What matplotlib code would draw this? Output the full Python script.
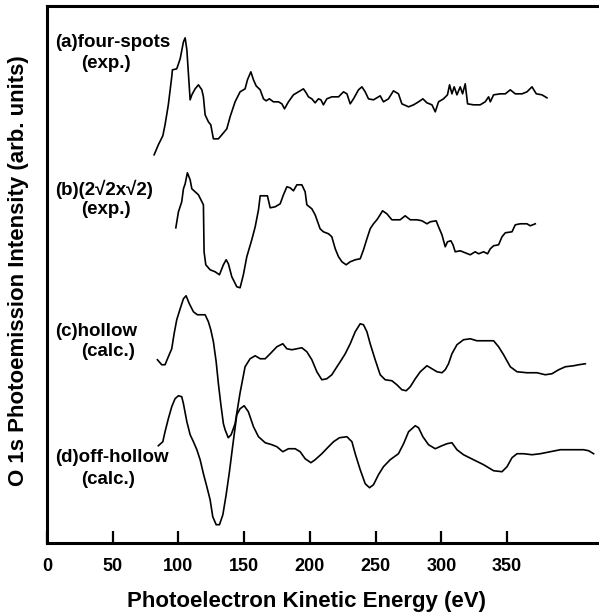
import numpy as np
import matplotlib
matplotlib.use("Agg")
from matplotlib import pyplot as plt

plt.rcParams['font.family'] = ['Liberation Sans', 'DejaVu Sans']
plt.rcParams['font.weight'] = 'bold'

# photoelectron kinetic energy (eV) and stacked intensity (arb. units)
E_a = [81.5, 84.7, 88.1, 89.8, 92.3, 94.9, 95.4, 98.7, 101.3, 103.8, 105.1, 106.4, 107.6,
       108.9, 110.2, 112.7, 115.2, 117.8, 119.0, 120.3, 122.8, 124.6, 126.6, 130.4, 133.0,
       136.8, 139.3, 143.1, 146.9, 150.7, 152.5, 155.1, 157.1, 159.1, 162.2, 164.7, 166.7,
       169.2, 172.3, 176.1, 178.7, 180.7, 183.7, 187.5, 191.3, 195.1, 197.2, 198.9, 201.5,
       204.0, 206.5, 208.4, 210.3, 212.9, 216.7, 221.8, 225.6, 228.2, 230.7, 233.2, 237.0,
       239.6, 242.1, 244.6, 248.4, 253.5, 256.0, 259.8, 263.6, 267.4, 270.0, 275.1, 278.9,
       282.7, 286.0, 289.1, 292.9, 295.4, 297.9, 301.7, 304.7, 306.3, 308.1, 309.8, 311.9,
       314.4, 316.2, 318.2, 320.0, 324.5, 329.6, 333.4, 336.0, 337.3, 339.8, 344.9, 348.7,
       352.5, 356.3, 361.4, 365.2, 369.0, 372.3, 376.6, 380.4]
I_a = [388, 398, 407, 418, 438, 466, 473, 474, 484, 501, 505, 493, 469,
       443, 448, 454, 458, 453, 446, 428, 421, 418, 404, 404, 408,
       414, 426, 441, 451, 454, 463, 471, 463, 457, 453, 444, 442,
       444, 441, 441, 439, 434, 441, 448, 451, 454, 450, 446, 444,
       440, 444, 443, 438, 444, 446, 446, 451, 449, 439, 444, 453,
       456, 451, 444, 443, 447, 441, 444, 452, 449, 439, 436, 438,
       441, 444, 440, 438, 431, 441, 444, 448, 458, 449, 456, 448,
       456, 449, 459, 439, 438, 438, 441, 446, 441, 448, 449, 449,
       453, 449, 449, 451, 456, 449, 448, 445]

E_b = [98.0, 100.0, 102.5, 103.8, 105.1, 106.8, 108.9, 110.2, 112.7, 115.2, 119.0, 119.5,
       120.8, 124.1, 127.9, 131.2, 134.2, 136.3, 138.0, 140.6, 144.4, 146.9, 149.4, 152.0,
       155.8, 158.4, 160.9, 162.2, 167.7, 169.8, 173.6, 177.4, 179.9, 182.5, 185.0, 187.5,
       190.1, 193.9, 196.4, 197.7, 201.5, 204.0, 207.8, 210.3, 214.2, 216.7, 219.3, 221.8,
       224.4, 227.6, 230.7, 234.5, 238.3, 240.8, 243.4, 245.9, 248.4, 251.0, 253.0, 255.3,
       258.6, 262.4, 268.7, 272.5, 276.4, 281.5, 285.3, 289.1, 291.6, 296.1, 297.9, 300.5,
       303.0, 304.7, 307.3, 308.9, 310.6, 314.4, 318.2, 322.0, 325.8, 328.4, 332.2, 335.2,
       337.3, 339.8, 343.6, 346.2, 348.7, 353.8, 356.3, 360.1, 365.2, 367.7, 371.5]
I_b = [315, 331, 341, 354, 359, 370, 363, 354, 351, 348, 338, 291,
       278, 273, 271, 268, 278, 283, 279, 266, 256, 255, 268, 286,
       303, 316, 333, 347, 347, 335, 336, 339, 348, 356, 355, 352,
       358, 358, 351, 338, 334, 328, 314, 311, 309, 306, 294, 286,
       281, 278, 281, 283, 284, 293, 304, 314, 319, 323, 327, 332,
       329, 323, 323, 327, 323, 323, 322, 319, 321, 322, 316, 308,
       296, 301, 302, 298, 291, 292, 290, 288, 291, 289, 291, 289,
       294, 297, 298, 306, 310, 311, 318, 319, 319, 317, 319]

E_c = [84.0, 87.3, 89.8, 92.3, 94.9, 96.7, 98.7, 101.3, 103.8, 105.8, 108.3, 111.4,
       114.4, 120.3, 122.8, 124.6, 126.6, 128.7, 130.4, 132.2, 134.2, 135.5, 137.9, 140.1,
       143.1, 146.9, 150.7, 154.5, 158.4, 162.2, 166.0, 169.8, 174.9, 179.4, 182.5, 186.3,
       190.1, 193.9, 197.7, 201.5, 205.3, 209.1, 212.9, 216.7, 220.6, 223.1, 226.9, 230.7,
       234.5, 238.3, 240.8, 243.4, 245.9, 249.7, 253.5, 257.3, 262.4, 266.2, 270.0, 273.3,
       276.4, 280.2, 284.0, 289.1, 292.9, 296.7, 300.5, 303.0, 305.5, 308.1, 311.9, 316.9,
       322.0, 327.1, 333.4, 339.8, 343.6, 347.4, 352.5, 357.6, 365.2, 372.8, 379.1, 384.2,
       389.3, 394.4, 400.7, 404.5, 409.6]
I_c = [183, 178, 178, 186, 194, 209, 223, 234, 244, 247, 239, 231,
       228, 228, 221, 213, 201, 181, 159, 139, 119, 113, 105, 108,
       119, 150, 176, 184, 187, 184, 184, 189, 196, 199, 194, 193,
       194, 195, 191, 183, 171, 163, 164, 168, 176, 181, 189, 199,
       211, 219, 218, 211, 199, 183, 168, 163, 162, 158, 153, 152,
       156, 164, 171, 177, 174, 171, 170, 173, 179, 189, 198, 203,
       204, 202, 202, 202, 196, 188, 176, 171, 170, 170, 168, 169,
       173, 176, 177, 178, 179]

E_d = [84.7, 88.1, 89.8, 92.3, 94.9, 97.4, 100.0, 102.5, 103.8, 106.4, 108.9, 111.4,
       114.0, 116.5, 119.0, 121.6, 124.1, 126.1, 128.7, 131.2, 133.8, 136.3, 138.8, 141.4,
       144.4, 146.9, 150.0, 153.2, 157.1, 160.9, 166.0, 171.1, 174.9, 179.4, 183.7, 188.8,
       192.6, 196.4, 200.8, 204.0, 209.1, 214.2, 218.0, 222.5, 228.2, 232.0, 234.5, 238.3,
       242.1, 245.4, 248.4, 252.2, 256.0, 261.1, 267.4, 271.3, 275.1, 280.2, 282.7, 286.0,
       290.3, 295.4, 300.5, 304.3, 308.1, 311.9, 316.9, 324.5, 332.2, 339.8, 346.2, 350.0,
       353.8, 357.6, 362.6, 369.0, 375.3, 382.9, 390.6, 398.2, 408.3, 412.1, 415.9]
I_d = [97, 101, 111, 124, 136, 144, 147, 146, 139, 121, 108, 101,
       93, 83, 69, 56, 43, 26, 18, 18, 28, 48, 71, 98,
       128, 134, 137, 131, 116, 106, 100, 98, 96, 91, 94, 94,
       91, 84, 80, 83, 89, 96, 101, 105, 106, 101, 89, 73,
       59, 55, 58, 68, 76, 83, 89, 99, 111, 117, 115, 106,
       98, 94, 97, 99, 100, 93, 88, 83, 78, 72, 71, 76,
       85, 89, 89, 88, 89, 91, 93, 93, 93, 92, 89]

curves = [(E_a, I_a), (E_b, I_b), (E_c, I_c), (E_d, I_d)]

# curve labels: (first line, second line, height of first line, height of second line)
labels = [("(a)four-spots", "(exp.)", 500, 479),
          ("(b)(2\u221a2x\u221a2)", "(exp.)", 353, 333),
          ("(c)hollow", "(calc.)", 211, 191),
          ("(d)off-hollow", "(calc.)", 85, 63)]

xticks = [0, 50, 100, 150, 200, 250, 300, 350]

fig = plt.figure(figsize=(5.99, 6.16), dpi=100)
ax = fig.add_axes([0.0785, 0.119, 0.9215, 0.871])

for E, I in curves:
    ax.plot(E, I, color='black', lw=1.2)

for top, bottom, y1, y2 in labels:
    ax.text(6.1, y1, top, fontsize=13.5, fontweight='bold', ha='left', va='center')
    ax.text(26.3, y2, bottom, fontsize=13.5, fontweight='bold', ha='left', va='center')

ax.set_xlim(0, 420)
ax.set_ylim(0, 536.7)
ax.set_xticks(xticks)
ax.set_xticklabels([str(t) for t in xticks], fontsize=13, fontweight='bold')
ax.set_yticks([])
ax.tick_params(axis='x', direction='in', length=8.5, width=1.6, pad=11)

for s in ['left', 'bottom', 'top']:
    ax.spines[s].set_linewidth(2.2)
ax.spines['right'].set_visible(False)

ax.set_xlabel('Photoelectron Kinetic Energy (eV)', fontsize=16, fontweight='bold', va='center')
ax.xaxis.set_label_coords(0.470, -0.110)
ax.set_ylabel('O 1s Photoemission Intensity (arb. units)', fontsize=16, fontweight='bold',
              va='center')
ax.yaxis.set_label_coords(-0.051, 0.508)

fig.savefig('out.png', dpi=100)
